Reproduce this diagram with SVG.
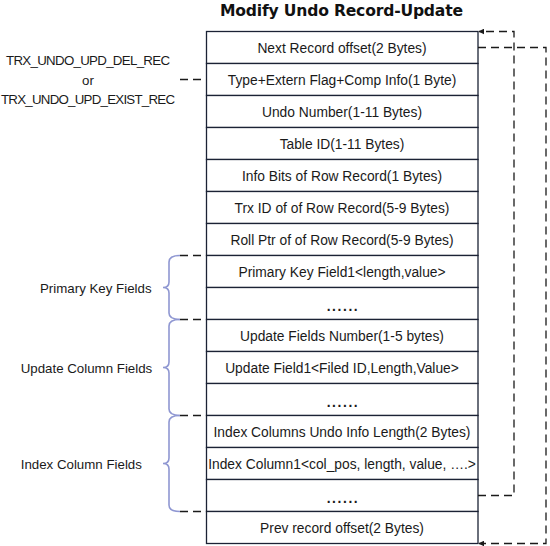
<svg xmlns="http://www.w3.org/2000/svg" width="550" height="546" viewBox="0 0 550 546">
<style>
.cell{fill:#ffffff;stroke:#1b2235;stroke-width:1.3}
.t{font-family:"Liberation Sans",Arial,sans-serif;font-size:13.8px;fill:#1a1a1a;text-anchor:middle}
.dots{font-family:"Liberation Sans",Arial,sans-serif;font-size:13.8px;font-weight:bold;letter-spacing:1.6px;fill:#1a1a1a;text-anchor:middle}
.lbl{font-family:"Liberation Sans",Arial,sans-serif;font-size:13.3px;fill:#1a1a1a}
.title{font-family:"DejaVu Sans",sans-serif;font-weight:bold;font-size:15.6px;fill:#111;text-anchor:middle}
.dash{fill:none;stroke:#1a1a1a;stroke-width:1.3;stroke-dasharray:8 5}
.brace{fill:none;stroke:#8f97d2;stroke-width:1.6}
</style>
<defs>
<marker id="arr" viewBox="0 0 10 10" refX="9" refY="5" markerWidth="6" markerHeight="6" orient="auto" markerUnits="userSpaceOnUse">
<path d="M0,0 L10,5 L0,10 z" fill="#1a1a1a"/>
</marker>
</defs>
<text class="title" x="341.5" y="16" textLength="243">Modify Undo Record-Update</text>
<g id="record">
<g id="r1"><rect class="cell" x="206.5" y="31.5" width="271.5" height="32"/><text class="t" x="342" y="52.5">Next Record offset(2 Bytes)</text></g>
<g id="r2"><rect class="cell" x="206.5" y="63.5" width="271.5" height="32"/><text class="t" x="342" y="84.5">Type+Extern Flag+Comp Info(1 Byte)</text></g>
<g id="r3"><rect class="cell" x="206.5" y="95.5" width="271.5" height="32"/><text class="t" x="342" y="116.5">Undo Number(1-11 Bytes)</text></g>
<g id="r4"><rect class="cell" x="206.5" y="127.5" width="271.5" height="32"/><text class="t" x="342" y="148.5">Table ID(1-11 Bytes)</text></g>
<g id="r5"><rect class="cell" x="206.5" y="159.5" width="271.5" height="32"/><text class="t" x="342" y="180.5">Info Bits of Row Record(1 Bytes)</text></g>
<g id="r6"><rect class="cell" x="206.5" y="191.5" width="271.5" height="32"/><text class="t" x="342" y="212.5">Trx ID of of Row Record(5-9 Bytes)</text></g>
<g id="r7"><rect class="cell" x="206.5" y="223.5" width="271.5" height="32"/><text class="t" x="342" y="244.5">Roll Ptr of of Row Record(5-9 Bytes)</text></g>
<g id="r8"><rect class="cell" x="206.5" y="255.5" width="271.5" height="32"/><text class="t" x="342" y="276.5">Primary Key Field1&lt;length,value&gt;</text></g>
<g id="r9"><rect class="cell" x="206.5" y="287.5" width="271.5" height="32"/><text class="dots" x="343" y="311">......</text></g>
<g id="r10"><rect class="cell" x="206.5" y="319.5" width="271.5" height="32"/><text class="t" x="342" y="340.5">Update Fields Number(1-5 bytes)</text></g>
<g id="r11"><rect class="cell" x="206.5" y="351.5" width="271.5" height="32"/><text class="t" x="342" y="372.5">Update Field1&lt;Filed ID,Length,Value&gt;</text></g>
<g id="r12"><rect class="cell" x="206.5" y="383.5" width="271.5" height="32"/><text class="dots" x="343" y="407">......</text></g>
<g id="r13"><rect class="cell" x="206.5" y="415.5" width="271.5" height="32"/><text class="t" x="342" y="436.5">Index Columns Undo Info Length(2 Bytes)</text></g>
<g id="r14"><rect class="cell" x="206.5" y="447.5" width="271.5" height="32"/><text class="t" x="342" y="468.5">Index Column1&lt;col_pos, length, value, ….&gt;</text></g>
<g id="r15"><rect class="cell" x="206.5" y="479.5" width="271.5" height="32"/><text class="dots" x="343" y="503">......</text></g>
<g id="r16"><rect class="cell" x="206.5" y="511.5" width="271.5" height="32"/><text class="t" x="342" y="532.5">Prev record offset(2 Bytes)</text></g>
</g>
<g id="type-label">
<text class="lbl" x="88" y="65" text-anchor="middle" textLength="164">TRX_UNDO_UPD_DEL_REC</text>
<text class="lbl" x="88" y="85" text-anchor="middle">or</text>
<text class="lbl" x="88" y="103.5" text-anchor="middle" textLength="174">TRX_UNDO_UPD_EXIST_REC</text>
</g>
<g id="primary-key-fields">
<path class="brace" d="M180,255.5 Q169,255.5 169,262 L169,282 Q169,287.5 163,287.5 Q169,287.5 169,293 L169,313 Q169,319.5 180,319.5"/>
<text class="lbl" x="40" y="292.5">Primary Key Fields</text>
</g>
<g id="update-column-fields">
<path class="brace" d="M180,319.5 Q169,319.5 169,326 L169,362 Q169,367.5 163,367.5 Q169,367.5 169,373 L169,409 Q169,415.5 180,415.5"/>
<text class="lbl" x="20.7" y="372.5">Update Column Fields</text>
</g>
<g id="index-column-fields">
<path class="brace" d="M180,415.5 Q169,415.5 169,422 L169,458 Q169,463.5 163,463.5 Q169,463.5 169,469 L169,505 Q169,511.5 180,511.5"/>
<text class="lbl" x="20.7" y="468.5">Index Column Fields</text>
</g>
<g id="connectors">
<path class="dash" d="M180,79.5 H206.5"/>
<path class="dash" d="M180,255.5 H206.5"/>
<path class="dash" d="M180,319.5 H206.5"/>
<path class="dash" d="M180,415.5 H206.5"/>
<path class="dash" d="M180,511.5 H206.5"/>
<path class="dash" d="M478,47.5 H546 V543.5 H479" marker-end="url(#arr)"/>
<path class="dash" d="M478,495.5 H514 V31.5 H479" marker-end="url(#arr)"/>
</g>
</svg>
